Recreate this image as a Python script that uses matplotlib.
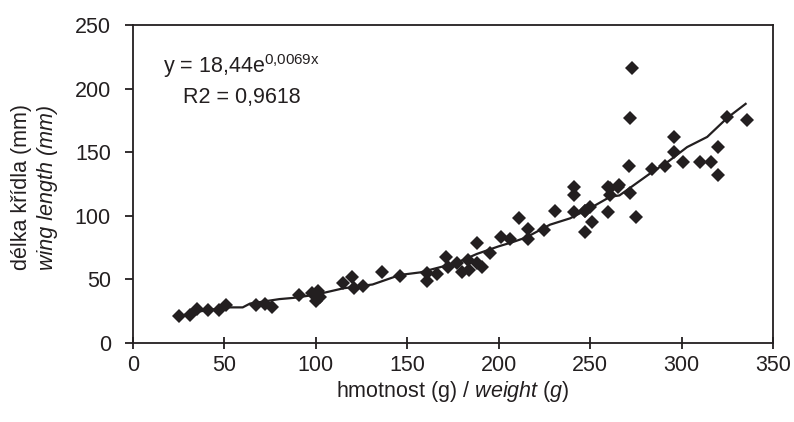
import matplotlib.pyplot as plt

plt.rcParams["font.family"] = ["Liberation Sans", "DejaVu Sans"]
plt.rcParams["mathtext.fontset"] = "custom"
plt.rcParams["mathtext.rm"] = "Liberation Sans"
plt.rcParams["mathtext.it"] = "Liberation Sans:italic"
plt.rcParams["mathtext.default"] = "regular"

# hmotnost (g) / delka kridla (mm)
weight = [25, 31, 35, 41, 47, 51, 67, 72, 76, 91, 98, 100, 101, 102,
          115, 120, 121, 126, 136, 146, 161, 161, 166, 171, 172, 177, 180,
          183, 184, 188, 188, 191, 195, 201, 206, 211, 216, 216, 225, 231,
          241, 241, 241, 247, 247, 247, 250, 251, 260, 260, 261, 261, 265,
          266, 271, 272, 272, 273, 275, 284, 291, 296, 296, 301, 310,
          316, 320, 320, 325, 336]
wing = [21, 22, 27, 26, 26, 30, 30, 31, 28, 38, 39, 33, 41, 36,
        47, 52, 43, 45, 56, 53, 55, 49, 54, 68, 60, 63, 56,
        65, 57, 79, 63, 60, 71, 83, 82, 98, 90, 82, 89, 104,
        123, 116, 103, 104, 87, 104, 107, 95, 123, 103, 116, 122, 123,
        124, 139, 177, 118, 216, 99, 137, 139, 150, 162, 142, 142,
        142, 154, 132, 178, 175]

# trendova cara
trend_x = [25, 35, 51, 60, 64, 80, 88, 100, 106, 115, 131, 146, 157,
           169, 177, 188, 200, 208, 215, 228, 239, 250, 261, 266, 283,
           293, 303, 314, 325, 335]
trend_y = [21, 24.5, 28, 28, 31, 34.5, 35.5, 38, 40, 43, 46, 53.5, 55.5,
           60, 63, 70, 76, 79.5, 83, 93, 98, 106, 115, 116, 133.5,
           143, 154, 162, 177, 188]

dark = "#231f20"
fs = 15.5

fig = plt.figure(figsize=(7.94, 4.22), dpi=100)
ax = fig.add_axes([0.1675, 0.1872, 0.8061, 0.7536])

ax.plot(trend_x, trend_y, color=dark, lw=1.6, zorder=2)
ax.plot(weight, wing, linestyle="none", marker="D", markersize=7.3,
        color=dark, markeredgewidth=0, zorder=3)

ax.set_xlim(0, 350)
ax.set_ylim(0, 250)
ax.set_xticks(range(0, 351, 50))
ax.set_yticks(range(0, 251, 50))
ax.tick_params(labelsize=fs, colors=dark, width=1.3)
ax.tick_params(axis="x", direction="inout", length=9, pad=4)
ax.tick_params(axis="y", direction="out", length=6, pad=10)
for s in ax.spines.values():
    s.set_linewidth(1.3)
    s.set_color(dark)

ax.text(16.4, 212, "y = 18,44e$^{0{,}0069x}$", fontsize=fs, color=dark,
        va="baseline")
ax.text(27.3, 188.5, "R2 = 0,9618", fontsize=fs, color=dark, va="baseline")

fig.text((133 + 773) / 2 / 794, 1 - 391 / 422,
         "hmotnost (g) / $\\it{weight\\ (g)}$",
         ha="center", va="center", fontsize=fs, color=dark)
fig.text(22 / 794, 1 - 187 / 422, "délka křídla (mm)", rotation=90,
         ha="center", va="center", fontsize=fs, color=dark)
fig.text(48 / 794, 1 - 187 / 422, "wing length (mm)", rotation=90,
         ha="center", va="center", fontsize=fs, color=dark, style="italic")

fig.savefig("out.png", dpi=100)
